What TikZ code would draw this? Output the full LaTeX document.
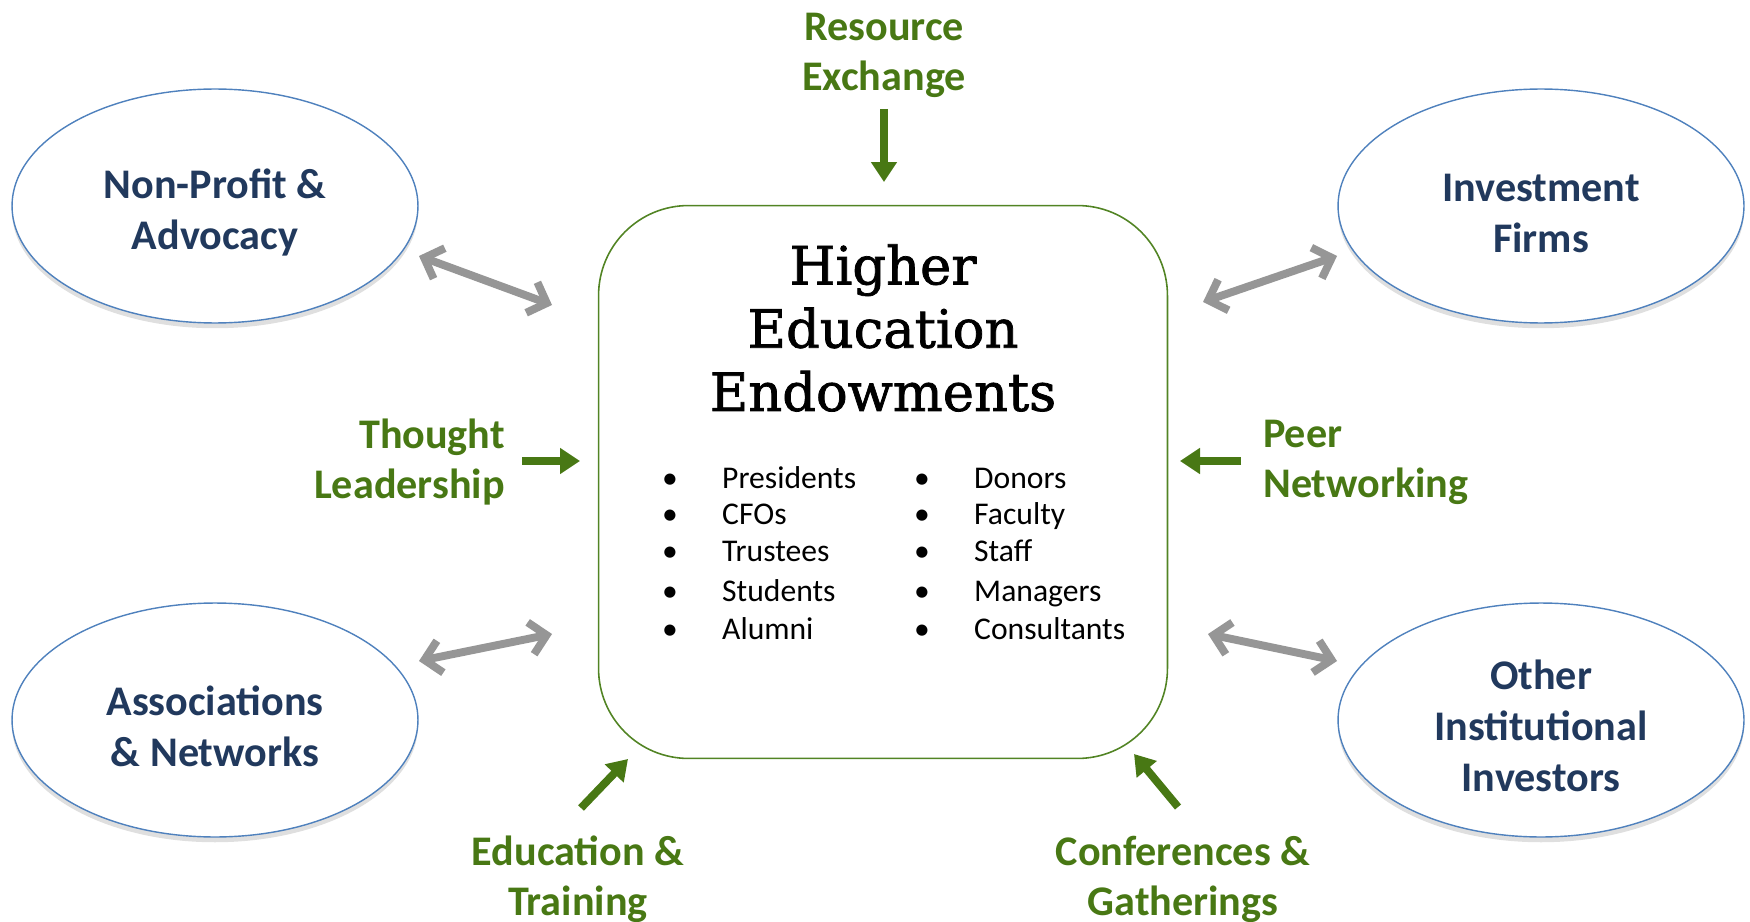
\documentclass[tikz,border=0pt]{standalone}
\usepackage{fontspec}
\setmainfont{Carlito}
\newfontfamily\slabfont[FakeBold=1.4]{DejaVu Serif}
\usetikzlibrary{arrows.meta,shapes.geometric,shadows,calc,positioning}
\definecolor{navy}{RGB}{33,57,93}
\definecolor{leaf}{RGB}{72,120,20}
\definecolor{sky}{RGB}{79,129,189}
\definecolor{ash}{RGB}{150,150,150}
\definecolor{frame}{RGB}{82,132,36}
\newcommand{\lift}{\rule{0pt}{24pt}}
\tikzset{
  oval/.style={ellipse, draw=sky, line width=0.8pt, fill=white,
    minimum width=8.12cm, minimum height=4.68cm, inner sep=0pt,
    align=center, text=navy, font=\fontsize{24}{29}\selectfont\bfseries,
    drop shadow={shadow xshift=0pt, shadow yshift=-3pt, opacity=0.25}},
  hub/.style={draw=frame, line width=0.9pt, rounded corners=1.8cm,
    minimum width=11.38cm, minimum height=11.06cm},
  tag/.style={text=leaf, font=\fontsize{24}{28.5}\selectfont\bfseries},
  feed/.style={draw=leaf, line width=4.5pt, -{Triangle[length=0.4cm,width=0.5cm]}},
  twoway/.style={draw=ash, line width=4.5pt,
    {Straight Barb[length=0.32cm,width=0.65cm]}-{Straight Barb[length=0.32cm,width=0.65cm]}},
  pick/.style={font=\fontsize{18}{22}\selectfont, anchor=mid west},
  dot/.style={font=\fontsize{18}{22}\selectfont, anchor=mid}
}

\begin{document}
\begin{tikzpicture}[x=0.02cm,y=-0.02cm]
        \useasboundingbox (0,0) rectangle (1750,922);

        % the four partner groups
        \node [oval] (np) at (215,206) {\lift Non-Profit \&\\Advocacy};
        \node [oval] (inv) at (1541,206) {\lift Investment\\Firms};
        \node [oval] (assoc) at (215,720) {\lift Associations\\\& Networks};
        \node [oval] (other) at (1541,720) {\lift Other\\Institutional\\Investors};

        % centre box
        \node [hub] (heb) at (883,482) {};
        \node [font=\slabfont\fontsize{30}{36}\selectfont, align=center] (ttl) at (883,328) {Higher\\Education\\Endowments};

        \foreach \w/\y [count=\i] in {Presidents/484,CFOs/520,Trustees/557,Students/597,Alumni/635}{
          \node [dot] (ld\i) at (670,\y) {\textbullet};
          \node [pick] (lw\i) at (716,\y) {\w};
        }
        \foreach \w/\y [count=\i] in {Donors/484,Faculty/520,Staff/557,Managers/597,Consultants/635}{
          \node [dot] (rd\i) at (922,\y) {\textbullet};
          \node [pick] (rw\i) at (968,\y) {\w};
        }

        % green labels
        \node [tag, align=center] (res) at (884,55) {Resource\\Exchange};
        \node [tag, align=right, anchor=east] (thl) at (511,462) {Thought\\Leadership};
        \node [tag, align=left, anchor=west] (peer) at (1257,462) {Peer\\Networking};
        \node [tag, align=center] (edu) at (578,879) {Education \&\\Training};
        \node [tag, align=center] (conf) at (1183,879) {Conferences \&\\Gatherings};

        % ends of the arrows
        \coordinate (res-a) at (884,109);
        \coordinate (res-b) at (884,182);
        \coordinate (thl-a) at (522,461);
        \coordinate (thl-b) at (580,461);
        \coordinate (peer-a) at (1241,461);
        \coordinate (peer-b) at (1180,461);
        \coordinate (edu-a) at (581,808);
        \coordinate (edu-b) at (628,759);
        \coordinate (conf-a) at (1178,807);
        \coordinate (conf-b) at (1134,754);

        \coordinate (np-a) at (419,256);
        \coordinate (np-b) at (552,305);
        \coordinate (inv-a) at (1337,256);
        \coordinate (inv-b) at (1203,302);
        \coordinate (assoc-a) at (419,661);
        \coordinate (assoc-b) at (552,634);
        \coordinate (other-a) at (1337,661);
        \coordinate (other-b) at (1208,634);

        \draw [feed] (res-a) -- (res-b);
        \draw [feed] (thl-a) -- (thl-b);
        \draw [feed] (peer-a) -- (peer-b);
        \draw [feed] (edu-a) -- (edu-b);
        \draw [feed] (conf-a) -- (conf-b);

        \draw [twoway] (np-a) -- (np-b);
        \draw [twoway] (inv-a) -- (inv-b);
        \draw [twoway] (assoc-a) -- (assoc-b);
        \draw [twoway] (other-a) -- (other-b);
\end{tikzpicture}
\end{document}
